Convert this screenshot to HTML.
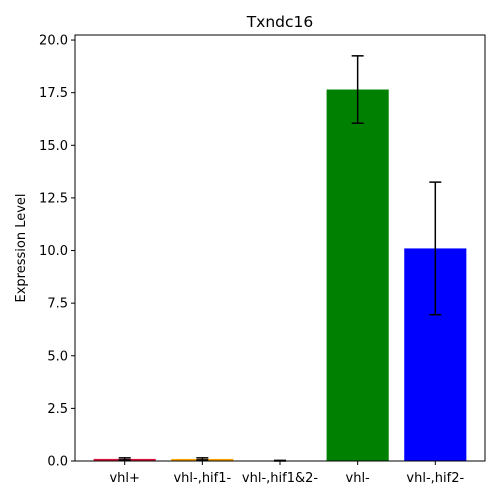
<!DOCTYPE html>
<html><head><meta charset="utf-8"><style>body{margin:0;background:#fff}svg{display:block;font-family:"DejaVu Sans","Liberation Sans",sans-serif}</style></head>
<body>
<svg id="chart" width="500" height="500"></svg>
<script>
const categories = ["vhl+","vhl-,hif1-","vhl-,hif1&2-","vhl-","vhl-,hif2-"];
const values = [0.1, 0.1, 0.0, 17.65, 10.1];
const errors = [0.05, 0.05, 0.03, 1.6, 3.15];
const colors = ["crimson","orange","purple","green","blue"];
const yTicks = [0, 2.5, 5, 7.5, 10, 12.5, 15, 17.5, 20];
const yTickLabels = ["0.0","2.5","5.0","7.5","10.0","12.5","15.0","17.5","20.0"];

const NS="http://www.w3.org/2000/svg";
const svg=document.getElementById('chart');
const L=75,R=485,T=35,B=461;
const yMax=20.24, xMin=-0.64, xMax=4.64;
const y=v=>B-(v/yMax)*(B-T);
const x=i=>L+(i-xMin)/(xMax-xMin)*(R-L);
const bw=0.8*(R-L)/(xMax-xMin);
function mk(tag,attrs,parent){const e=document.createElementNS(NS,tag);for(const k in attrs)e.setAttribute(k,attrs[k]);(parent||svg).appendChild(e);return e;}

categories.forEach((c,i)=>{
  const r=mk('rect',{x:x(i)-bw/2,y:y(values[i]),width:bw,height:B-y(values[i]),fill:colors[i]});
  
  
  const g=mk('g',{stroke:'#000','stroke-width':1.5});
  
  
  const lo=y(Math.max(0,values[i]-errors[i])),hi=y(values[i]+errors[i]);
  mk('line',{x1:x(i),x2:x(i),y1:lo,y2:hi},g);
  mk('line',{x1:x(i)-6,x2:x(i)+6,y1:lo,y2:lo},g);
  mk('line',{x1:x(i)-6,x2:x(i)+6,y1:hi,y2:hi},g);
  mk('line',{x1:x(i),x2:x(i),y1:B,y2:B+4,stroke:'#000'});
  const t=mk('text',{x:x(i),y:B+21,'text-anchor':'middle','font-size':13});
  t.textContent=c;
  
  
});
yTicks.forEach((v,i)=>{
  mk('line',{x1:L-4,x2:L,y1:y(v),y2:y(v),stroke:'#000'});
  const t=mk('text',{x:L-7,y:y(v)+4.5,'text-anchor':'end','font-size':13});
  t.textContent=yTickLabels[i];
  
  
});
const f=mk('rect',{x:L,y:T,width:R-L,height:B-T,fill:'none',stroke:'#000','stroke-width':1});


const ti=mk('text',{x:(L+R)/2,y:T-8,'text-anchor':'middle','font-size':15.5});
ti.textContent='Txndc16';


const yl=mk('text',{x:25,y:(T+B)/2,'text-anchor':'middle','font-size':13,transform:`rotate(-90 25 ${(T+B)/2})`});
yl.textContent='Expression Level';


</script>
</body></html>
